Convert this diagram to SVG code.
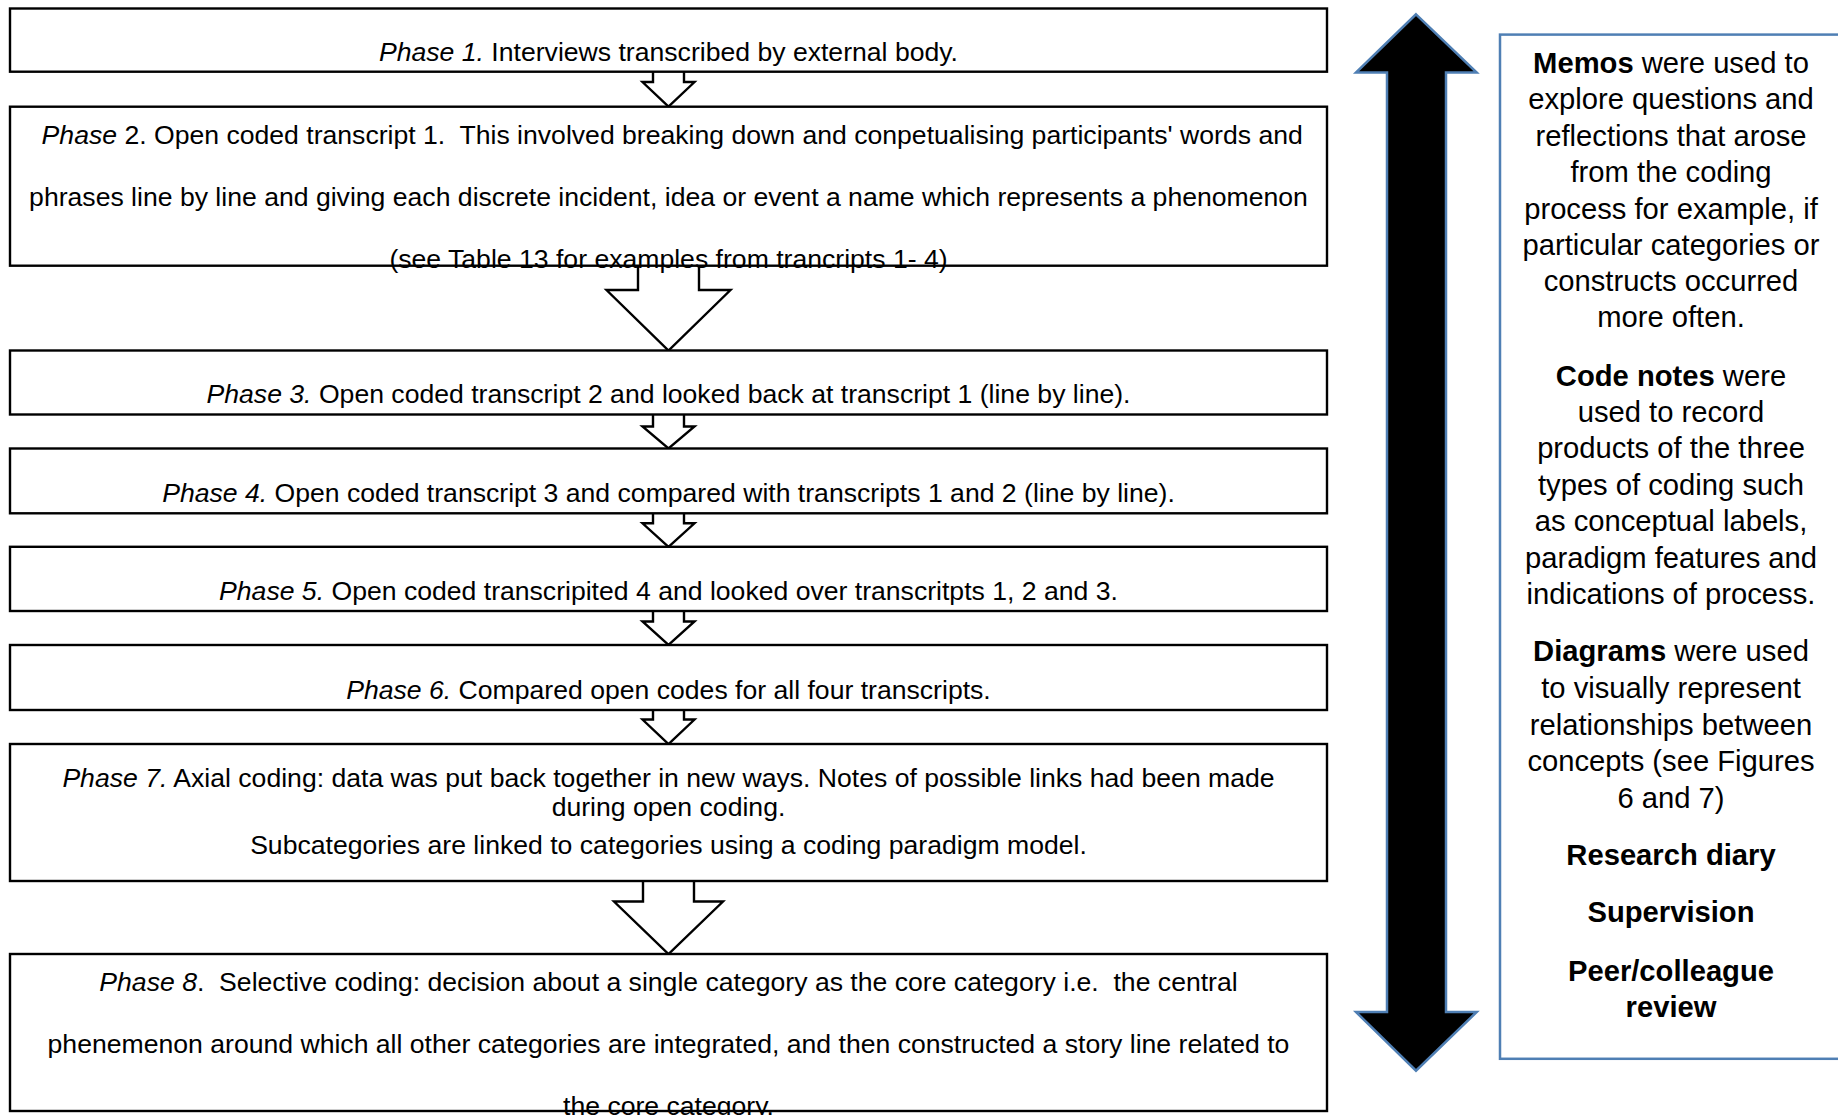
<svg xmlns="http://www.w3.org/2000/svg" width="1838" height="1115" viewBox="0 0 1838 1115">
  <style>
    .box { fill: #ffffff; stroke: #000000; stroke-width: 2.4; }
    .flow { fill: #ffffff; stroke: #000000; stroke-width: 2.4; stroke-linejoin: miter; }
    .t { font-family: "Liberation Sans", Arial, sans-serif; font-size: 26.6px; fill: #000000; text-anchor: middle; white-space: pre; }
    .r { font-family: "Liberation Sans", Arial, sans-serif; font-size: 29.2px; fill: #000000; text-anchor: middle; white-space: pre; }
    .i { font-style: italic; }
    .b { font-weight: bold; }
    .side { fill: #ffffff; stroke: #4F7FB4; stroke-width: 2.5; }
    .both { fill: #000000; stroke: #4F7FB4; stroke-width: 2.5; stroke-linejoin: miter; }
  </style>
  <rect width="1838" height="1115" fill="#ffffff"/>

  <!-- block arrows between phases -->
  <g id="connectors">
    <path class="flow" d="M653 71.7 V82 H642.5 L668.5 106.7 L694.5 82 H684 V71.7"/>
    <path class="flow" d="M638 265.7 V290 H606.5 L668.5 350.5 L730.5 290 H699 V265.7"/>
    <path class="flow" d="M653 414.5 V426.5 H642.5 L668.5 448.5 L694.5 426.5 H684 V414.5"/>
    <path class="flow" d="M653 513.3 V523.3 H642.5 L668.5 546.8 L694.5 523.3 H684 V513.3"/>
    <path class="flow" d="M653 611 V621.5 H642.5 L668.5 645 L694.5 621.5 H684 V611"/>
    <path class="flow" d="M653 710 V719.5 H642.5 L668.5 744 L694.5 719.5 H684 V710"/>
    <path class="flow" d="M643 881 V901.5 H614 L668.5 954 L723 901.5 H694 V881"/>
    <!-- two-headed arrow alongside the phases -->
    <path class="both" d="M1416 14.3 L1476.7 72.5 H1446 V1012 H1476.7 L1416 1070.7 L1356 1012 H1387 V72.5 H1356 Z"/>
  </g>

  <g id="phase1">
    <rect class="box" x="10" y="8.5" width="1317" height="63.2"/>
    <text class="t" x="668.5" y="61"><tspan class="i">Phase 1.</tspan> Interviews transcribed by external body.</text>
  </g>

  <g id="phase2">
    <rect class="box" x="10" y="106.7" width="1317" height="159"/>
    <text class="t" x="668.5" y="144"> <tspan class="i">Phase</tspan> 2. Open coded transcript 1.  This involved breaking down and conpetualising participants' words and</text>
    <text class="t" x="668.5" y="206">phrases line by line and giving each discrete incident, idea or event a name which represents a phenomenon</text>
    <text class="t" x="668.5" y="268">(see Table 13 for examples from trancripts 1- 4)</text>
  </g>

  <g id="phase3">
    <rect class="box" x="10" y="350.5" width="1317" height="64"/>
    <text class="t" x="668.5" y="402.5"><tspan class="i">Phase 3.</tspan> Open coded transcript 2 and looked back at transcript 1 (line by line).</text>
  </g>

  <g id="phase4">
    <rect class="box" x="10" y="448.5" width="1317" height="64.8"/>
    <text class="t" x="668.5" y="501.5"><tspan class="i">Phase 4.</tspan> Open coded transcript 3 and compared with transcripts 1 and 2 (line by line).</text>
  </g>

  <g id="phase5">
    <rect class="box" x="10" y="546.8" width="1317" height="64.2"/>
    <text class="t" x="668.5" y="600"><tspan class="i">Phase 5.</tspan> Open coded transcripited 4 and looked over transcritpts 1, 2 and 3.</text>
  </g>

  <g id="phase6">
    <rect class="box" x="10" y="645" width="1317" height="65"/>
    <text class="t" x="668.5" y="698.5"><tspan class="i">Phase 6.</tspan> Compared open codes for all four transcripts.</text>
  </g>

  <g id="phase7">
    <rect class="box" x="10" y="744" width="1317" height="137"/>
    <text class="t" x="668.5" y="786.5"><tspan class="i">Phase 7.</tspan> Axial coding: data was put back together in new ways. Notes of possible links had been made</text>
    <text class="t" x="668.5" y="816">during open coding.</text>
    <text class="t" x="668.5" y="853.5">Subcategories are linked to categories using a coding paradigm model.</text>
  </g>

  <g id="phase8">
    <rect class="box" x="10" y="954" width="1317" height="157"/>
    <text class="t" x="668.5" y="991"><tspan class="i">Phase 8</tspan>.  Selective coding: decision about a single category as the core category i.e.  the central</text>
    <text class="t" x="668.5" y="1053">phenemenon around which all other categories are integrated, and then constructed a story line related to</text>
    <text class="t" x="668.5" y="1115">the core category.</text>
  </g>

  <g id="support">
    <rect class="side" x="1500" y="34.6" width="360" height="1024.2"/>
    <text class="r" x="1671" y="73.2"><tspan class="b">Memos</tspan> were used to</text>
    <text class="r" x="1671" y="109">explore questions and</text>
    <text class="r" x="1671" y="145.7">reflections that arose</text>
    <text class="r" x="1671" y="182">from the coding</text>
    <text class="r" x="1671" y="218.6">process for example, if</text>
    <text class="r" x="1671" y="254.5">particular categories or</text>
    <text class="r" x="1671" y="291">constructs occurred</text>
    <text class="r" x="1671" y="327">more often.</text>
    <text class="r" x="1671" y="385.7"><tspan class="b">Code notes</tspan> were</text>
    <text class="r" x="1671" y="421.5">used to record</text>
    <text class="r" x="1671" y="458">products of the three</text>
    <text class="r" x="1671" y="494.6">types of coding such</text>
    <text class="r" x="1671" y="531">as conceptual labels,</text>
    <text class="r" x="1671" y="568">paradigm features and</text>
    <text class="r" x="1671" y="604">indications of process.</text>
    <text class="r" x="1671" y="661"><tspan class="b">Diagrams</tspan> were used</text>
    <text class="r" x="1671" y="697.7">to visually represent</text>
    <text class="r" x="1671" y="734.5">relationships between</text>
    <text class="r" x="1671" y="770.5">concepts (see Figures</text>
    <text class="r" x="1671" y="807.7">6 and 7)</text>
    <text class="r b" x="1671" y="864.6">Research diary</text>
    <text class="r b" x="1671" y="922">Supervision</text>
    <text class="r b" x="1671" y="980.6">Peer/colleague</text>
    <text class="r b" x="1671" y="1016.7">review</text>
  </g>
</svg>
